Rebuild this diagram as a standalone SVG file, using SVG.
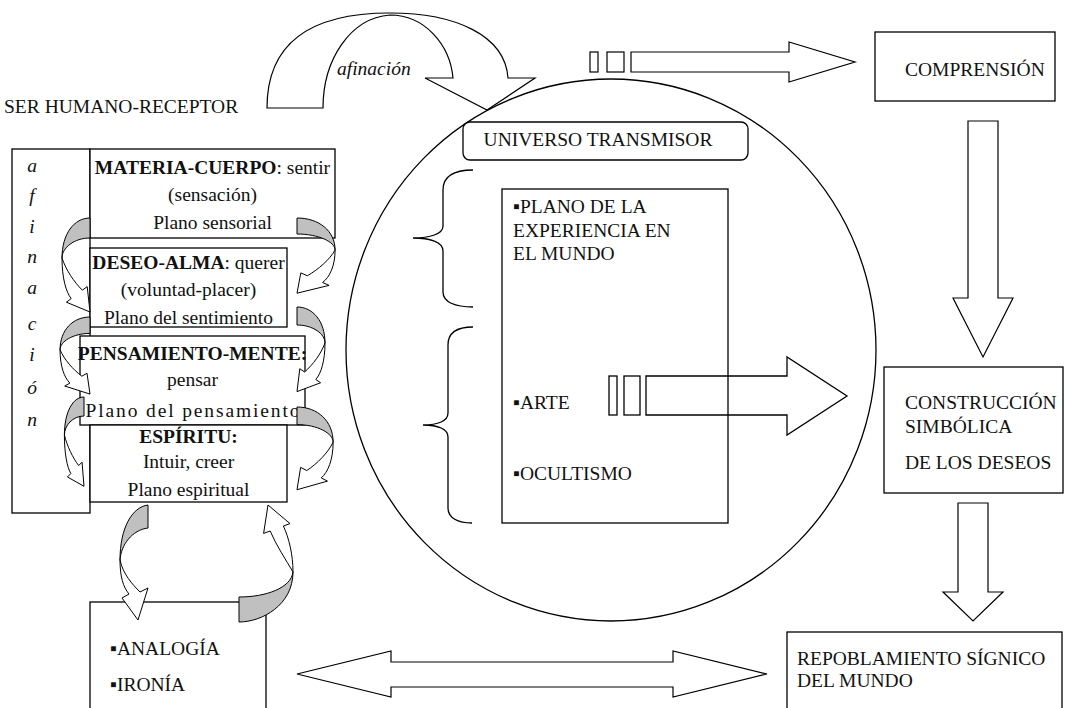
<svg xmlns="http://www.w3.org/2000/svg" xmlns:xlink="http://www.w3.org/1999/xlink" width="1071" height="708" viewBox="0 0 1071 708">
<style>
.box{fill:#fff;stroke:#000;stroke-width:1.3}
.ln{fill:none;stroke:#000;stroke-width:1.3}
.arw{fill:#fff;stroke:#000;stroke-width:1.2}
.gr{fill:#c0c0c0;stroke:#000;stroke-width:1;vector-effect:non-scaling-stroke}
.wh{fill:#fff;stroke:#000;stroke-width:1;vector-effect:non-scaling-stroke}
.t{font-family:"Liberation Serif","Times New Roman",serif;font-size:19.5px;fill:#111}
.m{text-anchor:middle}
.b{font-weight:bold}
.i{font-style:italic}
</style>
<defs>
<g id="curl">
<path class="gr" d="M0,0 C-16,0 -28,16 -28,40 C-28,30 -16,20 0,20 Z"/>
<path class="wh" d="M-28,40 C-28,60 -24,74 -18.8,80.6 L-23.6,84.2 L0,94 L-2.8,68.6 L-7.6,72.2 C-16,64 -24,52 -28,40 Z"/>
</g>
</defs>
<rect width="1071" height="708" fill="#fff"/>

<g id="universo-circle">
<ellipse cx="611" cy="350" rx="265" ry="271" class="ln"/>
</g>

<g id="ser-humano">
<text class="t" x="4" y="113">SER HUMANO-RECEPTOR</text>
</g>

<g id="afinacion-column">
<rect class="box" x="12" y="149" width="78" height="364"/>
<g class="t i m">
<text x="32" y="172">a</text>
<text x="32" y="202">f</text>
<text x="32" y="233">i</text>
<text x="32" y="263">n</text>
<text x="32" y="294">a</text>
<text x="32" y="330">c</text>
<text x="32" y="361">i</text>
<text x="32" y="394">ó</text>
<text x="32" y="426">n</text>
</g>
</g>

<g id="materia">
<rect class="box" x="90" y="149" width="245" height="89"/>
<text class="t m" x="212.5" y="174"><tspan class="b">MATERIA-CUERPO</tspan>: sentir</text>
<text class="t m" x="212.5" y="201">(sensación)</text>
<text class="t m" x="212.5" y="229">Plano sensorial</text>
</g>

<g id="deseo">
<rect class="box" x="90" y="248" width="197" height="79"/>
<text class="t m" x="188.5" y="269"><tspan class="b">DESEO-ALMA</tspan>: querer</text>
<text class="t m" x="188.5" y="296">(voluntad-placer)</text>
<text class="t m" x="188.5" y="324">Plano del sentimiento</text>
</g>

<g id="pensamiento">
<rect class="box" x="80" y="336" width="225" height="89"/>
<text class="t m b" x="192.5" y="360">PENSAMIENTO-MENTE:</text>
<text class="t m" x="192.5" y="386">pensar</text>
<text class="t m" x="192.5" y="417" textLength="214">Plano del pensamiento</text>
</g>

<g id="espiritu">
<rect class="box" x="90" y="425" width="197" height="77"/>
<text class="t m b" x="188.5" y="443">ESPÍRITU:</text>
<text class="t m" x="188.5" y="468">Intuir, creer</text>
<text class="t m" x="188.5" y="496">Plano espiritual</text>
</g>

<g id="analogia">
<rect class="box" x="90" y="602" width="176" height="110"/>
<text class="t" x="110" y="655">▪ANALOGÍA</text>
<text class="t" x="110" y="691">▪IRONÍA</text>
</g>

<g id="universo-transmisor">
<rect class="box" x="463" y="122" width="285" height="38" rx="7"/>
<text class="t m" x="598" y="146">UNIVERSO TRANSMISOR</text>
</g>

<g id="planos">
<rect class="box" x="502" y="189" width="226" height="334"/>
<text class="t" x="513" y="213">▪PLANO DE LA</text>
<text class="t" x="513" y="237">EXPERIENCIA EN</text>
<text class="t" x="513" y="260">EL MUNDO</text>
<text class="t" x="513" y="409">▪ARTE</text>
<text class="t" x="513" y="480">▪OCULTISMO</text>
</g>

<g id="comprension">
<rect class="box" x="875" y="32" width="180" height="69"/>
<text class="t" x="905" y="76">COMPRENSIÓN</text>
</g>

<g id="construccion">
<rect class="box" x="884" y="367" width="179" height="126"/>
<text class="t" x="905" y="409">CONSTRUCCIÓN</text>
<text class="t" x="905" y="433">SIMBÓLICA</text>
<text class="t" x="905" y="469">DE LOS DESEOS</text>
</g>

<g id="repoblamiento">
<rect class="box" x="787" y="632" width="275" height="80"/>
<text class="t" x="797" y="665">REPOBLAMIENTO SÍGNICO</text>
<text class="t" x="797" y="687">DEL MUNDO</text>
</g>

<g id="connectors">
<!-- afinacion curved arrow -->
<path class="arw" d="M267,108 L323,108 C323,60 350,18 390,15 C425,15 450,45 453,78 L425,78 L487,110 L535,78 L508,78 C505,35 455,13 390,13 C315,13 267,40 267,108 Z"/>
<text class="t i" x="337" y="75" font-size="18.5">afinación</text>
<!-- braces -->
<path class="ln" d="M473,170 C455,170 443,175 443,190 L443,226 C443,234 430,238 413,238 C430,238 443,242 443,251 L443,292 C443,302 455,307 473,307"/>
<path class="ln" d="M473,327 C458,327 448,332 448,345 L448,413 C448,421 438,425 423,425 C438,425 448,429 448,437 L448,508 C448,518 458,523 472,523"/>
<!-- top striped arrow -->
<rect class="arw" x="590" y="52" width="8" height="20"/>
<rect class="arw" x="607" y="52" width="17" height="20"/>
<path class="arw" d="M631,52 L789,52 L789,42 L855,62 L789,82 L789,72 L631,72 Z"/>
<!-- arte striped arrow -->
<rect class="ln" x="609" y="376" width="8" height="39"/>
<rect class="ln" x="624" y="376" width="16" height="39"/>
<path class="ln" d="M646,376 L787,376 L787,357 L847,396 L787,435 L787,415 L646,415 Z"/>
<!-- down arrows -->
<path class="arw" d="M968,121 L998,121 L998,298 L1013,298 L983,357 L953,298 L968,298 Z"/>
<path class="arw" d="M958,503 L988,503 L988,592 L1003,592 L973,621 L943,592 L958,592 Z"/>
<!-- double arrow -->
<path class="arw" d="M297,674 L391,651 L391,662 L673,662 L673,651 L767,674 L673,697 L673,687 L391,687 L391,697 Z"/>
<!-- curved arrows left -->
<use xlink:href="#curl" href="#curl" transform="translate(90,218)"/>
<use xlink:href="#curl" href="#curl" transform="translate(90,317) scale(1.07,0.82)"/>
<use xlink:href="#curl" href="#curl" transform="translate(84,397) scale(0.7,0.95)"/>
<!-- curved arrows right -->
<use xlink:href="#curl" href="#curl" transform="translate(297,218) scale(-1.36,0.8)"/>
<use xlink:href="#curl" href="#curl" transform="translate(297,307) scale(-1,0.9)"/>
<use xlink:href="#curl" href="#curl" transform="translate(297,407) scale(-1.29,0.88)"/>
<!-- bottom curved arrows -->
<path class="gr" d="M148,505 C132,507 120,528 120,560 C121,545 132,530 148,528 Z"/>
<path class="wh" d="M120,560 C120,576 123,587 129,594 L122,598 L138,620 L148,588 L140,592 C132,584 123,574 120,560 Z"/>
<path class="gr" d="M239,622 C262,622 293,605 293,572 C291,588 266,597 239,597 Z"/>
<path class="wh" d="M293,572 C293,555 289,538 283.4,526 L290,523.6 L268,505 L263.6,533.4 L270.2,531 C276,545 286,560 293,572 Z"/>
</g>
</svg>
